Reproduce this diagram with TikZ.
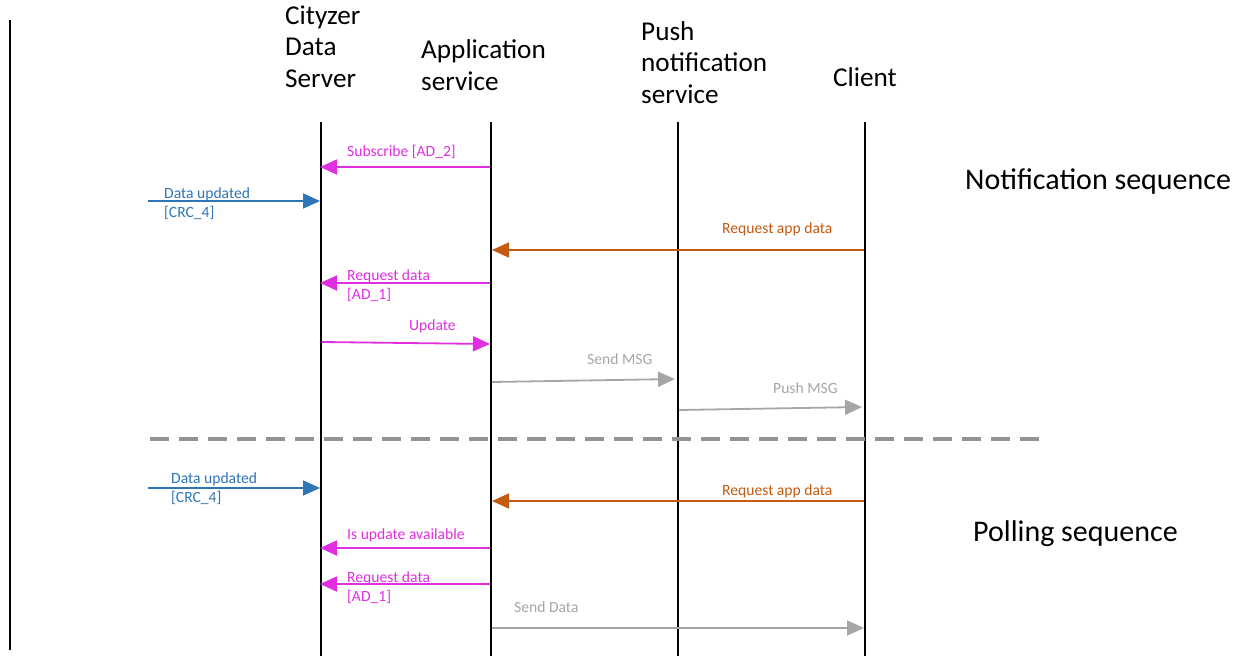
\documentclass[tikz,border=0pt]{standalone}
\usepackage{fontspec}
\setmainfont{Carlito}
\usetikzlibrary{arrows.meta}
\definecolor{cmag}{HTML}{E02FE0}
\definecolor{cblue}{HTML}{2E75B6}
\definecolor{corange}{HTML}{C55A11}
\definecolor{cgray}{HTML}{A6A6A6}
\begin{document}
\begin{tikzpicture}[x=1pt,y=-1pt,
  lifeline/.style={line width=2.8pt,black},
  msg/.style={line width=1.8pt,-{Triangle[length=17pt,width=15pt]}},
  lbl/.style={inner sep=0pt,anchor=base west,font=\fontsize{15.6}{19}\selectfont,align=left},
  hdr/.style={inner sep=0pt,anchor=base west,font=\fontsize{27.2}{31.5}\selectfont,align=left},
  seq/.style={inner sep=0pt,anchor=base west,font=\fontsize{30}{32}\selectfont}]
\useasboundingbox (0,0) rectangle (1233,656);
% left border line
\coordinate (bt) at (10,20);
\coordinate (bb) at (10,650);
\draw[line width=1.3pt] (bt) -- (bb);
% headers (anchor = baseline of last line)
\node[hdr] (hC) at (285,87) {Cityzer\\Data\\Server};
\node[hdr] (hA) at (421,90) {Application\\service};
\node[hdr] (hP) at (641,103) {Push\\notification\\service};
\node[hdr] (hK) at (833,86) {Client};
% lifelines
\coordinate (Ct) at (321,122); \coordinate (Cb) at (321,656);
\coordinate (At) at (491,122); \coordinate (Ab) at (491,656);
\coordinate (Pt) at (678,122); \coordinate (Pb) at (678,656);
\coordinate (Kt) at (865,122); \coordinate (Kb) at (865,656);
\draw[lifeline] (Ct) -- (Cb);
\draw[lifeline] (At) -- (Ab);
\draw[lifeline] (Pt) -- (Pb);
\draw[lifeline] (Kt) -- (Kb);
% sequence titles
\node[seq] (ns) at (965,189) {Notification sequence};
\node[seq] (ps) at (973,541) {Polling sequence};
% separator
\coordinate (s1) at (150,439); \coordinate (s2) at (1045,439);
\draw[line width=3.5pt,gray!85,dash pattern=on 19pt off 10pt] (s1) -- (s2);
% notification sequence messages
\coordinate (m1a) at (490,167); \coordinate (m1b) at (320,167);
\draw[msg,cmag] (m1a) -- (m1b);
\node[lbl,text=cmag] (l1) at (347,156) {Subscribe [AD\_2]};
\coordinate (m2a) at (148,201); \coordinate (m2b) at (320,201);
\draw[msg,cblue] (m2a) -- (m2b);
\node[lbl,text=cblue] (l2) at (164,217) {Data updated\\{}[CRC\_4]};
\coordinate (m3a) at (864,250); \coordinate (m3b) at (492,250);
\draw[msg,corange] (m3a) -- (m3b);
\node[lbl,text=corange] (l3) at (722,233) {Request app data};
\coordinate (m4a) at (490,283); \coordinate (m4b) at (320,283);
\draw[msg,cmag] (m4a) -- (m4b);
\node[lbl,text=cmag] (l4) at (347,299) {Request data\\{}[AD\_1]};
\coordinate (m5a) at (322,342); \coordinate (m5b) at (490,344);
\draw[msg,cmag] (m5a) -- (m5b);
\node[lbl,text=cmag] (l5) at (409,330) {Update};
\coordinate (m6a) at (492,382); \coordinate (m6b) at (675,379);
\draw[msg,cgray] (m6a) -- (m6b);
\node[lbl,text=cgray] (l6) at (587,364) {Send MSG};
\coordinate (m7a) at (679,410); \coordinate (m7b) at (862,407);
\draw[msg,cgray] (m7a) -- (m7b);
\node[lbl,text=cgray] (l7) at (773,393) {Push MSG};
% polling sequence messages
\coordinate (n1a) at (148,488); \coordinate (n1b) at (320,488);
\draw[msg,cblue] (n1a) -- (n1b);
\node[lbl,text=cblue] (k1) at (171,502) {Data updated\\{}[CRC\_4]};
\coordinate (n2a) at (864,501); \coordinate (n2b) at (492,501);
\draw[msg,corange] (n2a) -- (n2b);
\node[lbl,text=corange] (k2) at (722,495) {Request app data};
\coordinate (n3a) at (490,548); \coordinate (n3b) at (320,548);
\draw[msg,cmag] (n3a) -- (n3b);
\node[lbl,text=cmag] (k3) at (347,539) {Is update available};
\coordinate (n4a) at (490,584); \coordinate (n4b) at (320,584);
\draw[msg,cmag] (n4a) -- (n4b);
\node[lbl,text=cmag] (k4) at (347,601) {Request data\\{}[AD\_1]};
\coordinate (n5a) at (492,628); \coordinate (n5b) at (864,628);
\draw[msg,cgray] (n5a) -- (n5b);
\node[lbl,text=cgray] (k5) at (514,612) {Send Data};
\end{tikzpicture}
\end{document}
